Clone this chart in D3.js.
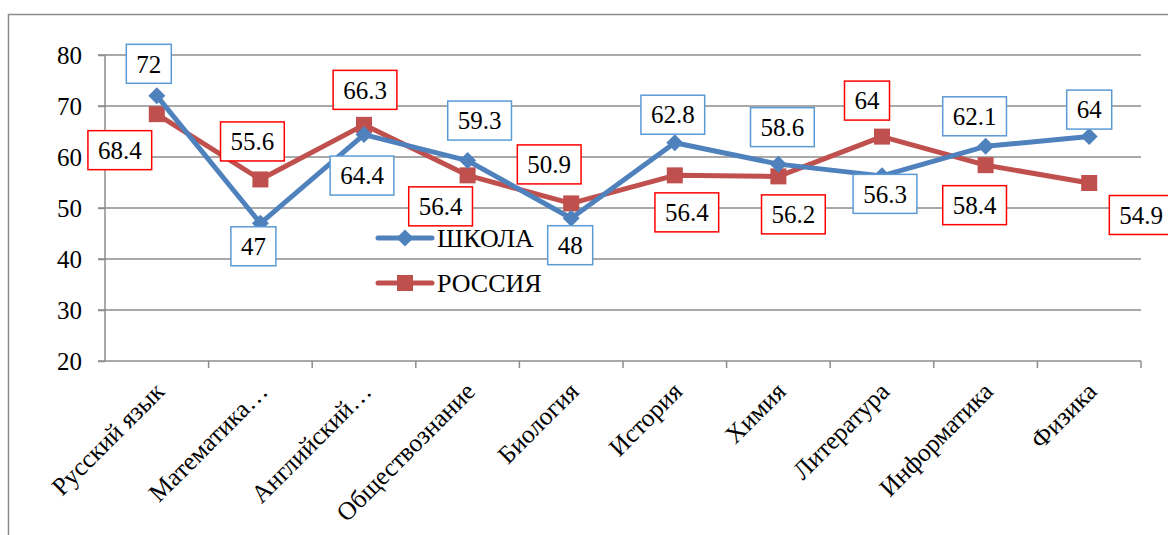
<!DOCTYPE html>
<html><head><meta charset="utf-8">
<script src="https://cdn.jsdelivr.net/npm/d3@7"></script>
<style>body{margin:0;background:#fff}svg{display:block}</style>
</head><body>
<svg id="c" width="1168" height="535"></svg>
<script>
const categories = ["Русский язык","Математика…","Английский…","Обществознание","Биология","История","Химия","Литература","Информатика","Физика"];
const schoolValues = [72,47,64.4,59.3,48,62.8,58.6,56.3,62.1,64];
const russiaValues = [68.4,55.6,66.3,56.4,50.9,56.4,56.2,64,58.4,54.9];
const yTicks = [20,30,40,50,60,70,80];
const seriesNames = ["ШКОЛА","РОССИЯ"];

// label placement offsets (layout only)
const schoolLabelOff = [[-8,-32],[-7,23],[-2,41],[12,-40],[-1,27],[-2,-28],[4,-37],[3,18],[-11,-30],[0,-27]];
const russiaLabelOff = [[-37,36],[-8,-38],[1,-35],[-27,31],[-22,-39],[12,37],[15,38],[-15,-36],[-11,40],[52,32]];

const svg = d3.select("#c");
const font = "Liberation Serif";
const L = 105, R = 1141, T = 55, B = 361;

svg.append("rect").attr("x",8.5).attr("y",14.5).attr("width",1200).attr("height",600)
  .attr("fill","#fff").attr("stroke","#8c8c8c").attr("stroke-width",1.5);

const x = d3.scaleBand().domain(categories).range([L,R]);
const y = d3.scaleLinear().domain([20,80]).range([B,T]);

svg.append("g").selectAll("line").data(yTicks.filter(t=>t>20)).join("line")
  .attr("x1",L-7).attr("x2",R).attr("y1",d=>y(d)).attr("y2",d=>y(d))
  .attr("stroke","#8c8c8c").attr("stroke-width",1.5);

const ya = svg.append("g").attr("transform",`translate(${L},0)`)
  .call(d3.axisLeft(y).tickValues(yTicks).tickSize(7).tickPadding(16));
ya.attr("font-family",null).attr("font-size",null);
ya.select(".domain").attr("stroke","#8c8c8c").attr("stroke-width",1.5).attr("d",`M0,${B}V${T}`);
ya.selectAll(".tick line").attr("stroke","#8c8c8c").attr("stroke-width",1.5);
ya.selectAll("text").attr("font-family",font).attr("font-size",25).attr("fill","#000");

const xa = svg.append("g").attr("transform",`translate(0,${B})`)
  .call(d3.axisBottom(x).tickSize(0).tickFormat(""));
xa.select(".domain").attr("stroke","#8c8c8c").attr("stroke-width",1.5).attr("d",`M${L-7},0H${R}`);
const tickPos = categories.map(c=>x(c)).concat([R]);
xa.selectAll(".bt").data(tickPos.slice(1)).join("line").attr("class","bt")
  .attr("x1",d=>d).attr("x2",d=>d).attr("y1",0).attr("y2",7)
  .attr("stroke","#8c8c8c").attr("stroke-width",1.5);

svg.append("g").selectAll("text").data(categories).join("text")
  .attr("transform",d=>`translate(${x(d)+x.bandwidth()/2+9},${B+32}) rotate(-45)`)
  .attr("text-anchor","end")
  .attr("font-family",font).attr("font-size",25.5).text(d=>d);

const cx = d => x(d)+x.bandwidth()/2;
const series = [
  {name:seriesNames[0], vals:schoolValues, color:"#4F81BD", box:"#5B9BD5", off:schoolLabelOff, shape:"diamond"},
  {name:seriesNames[1], vals:russiaValues, color:"#C0504D", box:"#FF0000", off:russiaLabelOff, shape:"square"}
];
const line = d3.line().x((d,i)=>cx(categories[i])).y(d=>y(d));

function marker(g, shape, color, px, py){
  if(shape==="diamond"){
    g.append("path").attr("d",`M${px},${py-8.5}L${px+8.5},${py}L${px},${py+8.5}L${px-8.5},${py}Z`).attr("fill",color);
  } else {
    g.append("rect").attr("x",px-8).attr("y",py-8).attr("width",16).attr("height",16).attr("fill",color);
  }
}

series.slice().reverse().forEach(s=>{
  const g = svg.append("g");
  g.append("path").datum(s.vals).attr("d",line).attr("fill","none")
    .attr("stroke",s.color).attr("stroke-width",5).attr("stroke-linejoin","round").attr("stroke-linecap","round");
  s.vals.forEach((v,i)=>marker(g,s.shape,s.color,cx(categories[i]),y(v)));
});

series.forEach((s,k)=>{
  const ly = 238 + k*45;
  const g = svg.append("g");
  g.append("line").attr("x1",378).attr("x2",432).attr("y1",ly).attr("y2",ly)
    .attr("stroke",s.color).attr("stroke-width",5).attr("stroke-linecap","round");
  marker(g,s.shape,s.color,405,ly);
  g.append("text").attr("x",437).attr("y",ly+9).attr("font-family",font).attr("font-size",26).text(s.name);
});

series.forEach(s=>{
  const g = svg.append("g");
  s.vals.forEach((v,i)=>{
    const px = cx(categories[i])+s.off[i][0], py = y(v)+s.off[i][1];
    const t = g.append("text").attr("x",px).attr("y",py).attr("text-anchor","middle")
      .attr("dy","0.35em").attr("font-family",font).attr("font-size",25).text(String(v));
    const w = t.node().getComputedTextLength()+20, h = 39;
    g.insert("rect","text").attr("x",px-w/2).attr("y",py-h/2).attr("width",w).attr("height",h)
      .attr("fill","#fff").attr("stroke",s.box).attr("stroke-width",1.5);
  });
});
</script>
</body></html>
